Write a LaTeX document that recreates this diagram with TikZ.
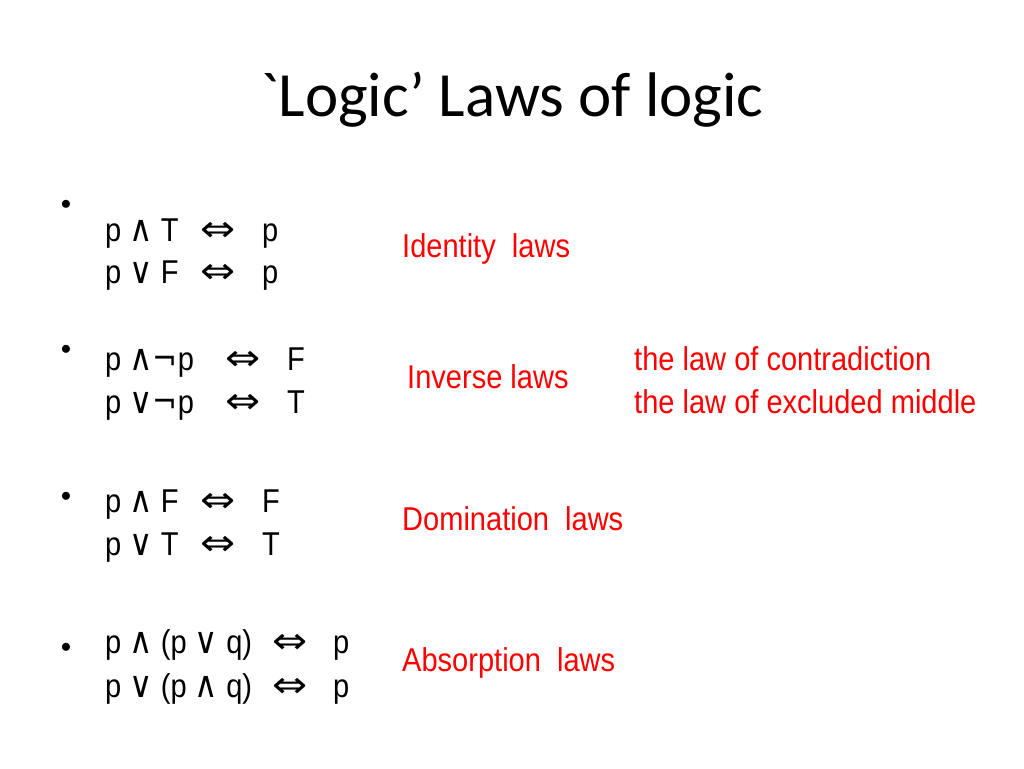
\documentclass[tikz,border=0pt]{standalone}
\usepackage{fontspec}
\setmainfont{Liberation Sans}
\newfontfamily\titlefont{Carlito}
\newfontfamily\symfont{DejaVu Sans}
\newcommand{\nar}[1]{\scalebox{0.88}[1]{#1}}
\newcommand{\AND}{\scalebox{1.4}{\symfont\fontsize{26}{30}\selectfont ∧}}
\newcommand{\OR}{\scalebox{1.4}{\symfont\fontsize{26}{30}\selectfont ∨}}
\newcommand{\NOT}{\scalebox{1.3}{\symfont\fontsize{26}{30}\selectfont ¬}}
\newcommand{\IFF}{\scalebox{1.5}[1.3]{\symfont\fontsize{28}{30}\selectfont ⇔}}
\begin{document}
\begin{tikzpicture}[x=1pt,y=-1pt,
  f/.style={anchor=base west,inner sep=0pt,font=\fontsize{33}{38}\selectfont},
  lab/.style={anchor=base west,inner sep=0pt,text=red,font=\fontsize{33}{38}\selectfont},
  bul/.style={inner sep=0pt,font=\fontsize{22}{24}\selectfont}]
\useasboundingbox (0,0) rectangle (1024,768);
\node[inner sep=0pt,anchor=base,font=\titlefont\fontsize{63}{68}\selectfont] (title) at (512,116) {`Logic’ Laws of logic};
\foreach \y/\n in {205/b1,350/b2,497/b3,648/b4} \node[bul] (\n) at (66,\y) {$\bullet$};
% group 1
\node[f] (a1) at (105,241) {\nar{p \AND\ T}};
\node[f] (a2) at (200,241) {\IFF};
\node[f] (a3) at (262,241) {\nar{p}};
\node[f] (a4) at (105,283) {\nar{p \OR\ F}};
\node[f] (a5) at (200,283) {\IFF};
\node[f] (a6) at (262,283) {\nar{p}};
\node[lab] (l1) at (402,257) {\nar{Identity\ \ laws}};
% group 2
\node[f] (c1) at (105,370) {\nar{p \AND\NOT p}};
\node[f] (c2) at (225,370) {\IFF};
\node[f] (c3) at (287,370) {\nar{F}};
\node[f] (c4) at (105,413) {\nar{p \OR\NOT p}};
\node[f] (c5) at (225,413) {\IFF};
\node[f] (c6) at (287,413) {\nar{T}};
\node[lab] (l2) at (407,388) {\nar{Inverse laws}};
\node[lab] (l3) at (634,370) {\nar{the law of contradiction}};
\node[lab] (l4) at (634,413) {\nar{the law of excluded middle}};
% group 3
\node[f] (d1) at (105,512) {\nar{p \AND\ F}};
\node[f] (d2) at (200,512) {\IFF};
\node[f] (d3) at (262,512) {\nar{F}};
\node[f] (d4) at (105,555) {\nar{p \OR\ T}};
\node[f] (d5) at (200,555) {\IFF};
\node[f] (d6) at (262,555) {\nar{T}};
\node[lab] (l5) at (402,530) {\nar{Domination\ \ laws}};
% group 4
\node[f] (e1) at (105,653) {\nar{p \AND\ (p \OR\ q)}};
\node[f] (e2) at (272,653) {\IFF};
\node[f] (e3) at (333,653) {\nar{p}};
\node[f] (e4) at (105,697) {\nar{p \OR\ (p \AND\ q)}};
\node[f] (e5) at (272,697) {\IFF};
\node[f] (e6) at (333,697) {\nar{p}};
\node[lab] (l6) at (402,671) {\nar{Absorption\ \ laws}};
\end{tikzpicture}
\end{document}
